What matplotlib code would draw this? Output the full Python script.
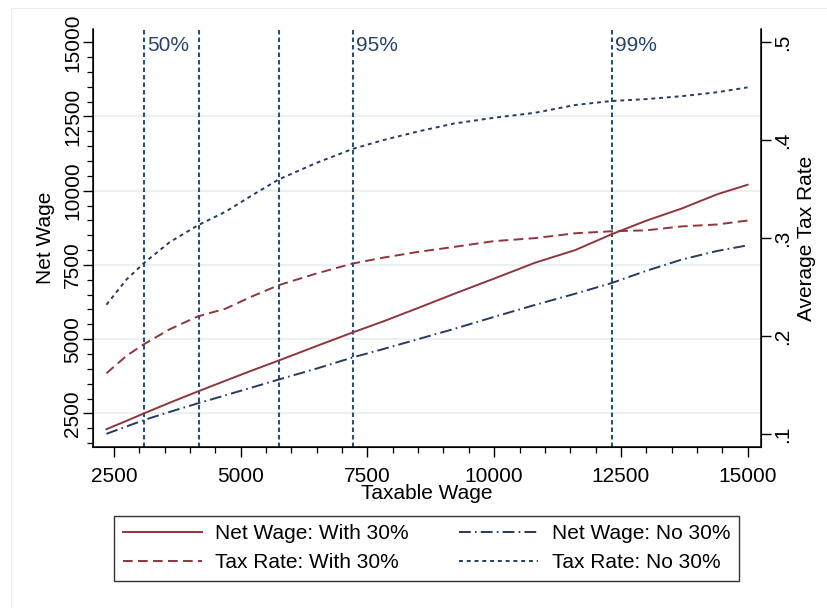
import matplotlib

matplotlib.use('Agg')

import matplotlib.pyplot as plt
import matplotlib.ticker as ticker
from matplotlib.patches import Rectangle


# taxable wage grid shared by all four series
taxable_wage = [2350, 2750, 3100, 3600, 4150, 4700, 5200, 5750, 6500, 7200, 7800,
                8500, 9200, 10000, 10800, 11600, 12300, 13000, 13700, 14400, 15000]

net_wage_with = [1965, 2250, 2505, 2860, 3235, 3600, 3930, 4280, 4770, 5220, 5590,
                 6050, 6520, 7040, 7570, 8000, 8520, 8990, 9400, 9880, 10200]
net_wage_no = [1810, 2060, 2280, 2550, 2835, 3110, 3360, 3640, 4010, 4380, 4660,
               5000, 5340, 5750, 6150, 6530, 6880, 7300, 7680, 7970, 8160]
tax_rate_with = [0.162, 0.180, 0.192, 0.207, 0.220, 0.228, 0.240, 0.252, 0.264, 0.274, 0.280,
                 0.286, 0.291, 0.297, 0.300, 0.305, 0.307, 0.308, 0.312, 0.314, 0.318]
tax_rate_no = [0.232, 0.258, 0.275, 0.296, 0.313, 0.327, 0.343, 0.360, 0.377, 0.391, 0.400,
               0.409, 0.417, 0.423, 0.428, 0.436, 0.440, 0.442, 0.445, 0.449, 0.454]

percentile_wage = [3092, 4171, 5756, 7210, 12328]
percentile_text = ['50%', '', '', '95%', '99%']

x_ticks = [2500, 5000, 7500, 10000, 12500, 15000]
net_ticks = [2500, 5000, 7500, 10000, 12500, 15000]
grid_vals = [2500, 5000, 7500, 10000, 12500]
rate_ticks = [0.1, 0.2, 0.3, 0.4, 0.5]
rate_labels = ['.1', '.2', '.3', '.4', '.5']

MAROON = '#90353b'
NAVY = '#273b5f'
VLINE = '#24517a'
FS = 15

plt.rcParams['font.family'] = ['Liberation Sans', 'DejaVu Sans']
plt.rcParams['lines.scale_dashes'] = False

fig = plt.figure(figsize=(8.28, 6.08), dpi=100)
ax = fig.add_axes([0.112, 0.2643, 0.807, 0.6875])
ax2 = ax.twinx()

# faint outer graph region outline
fig.patches.append(Rectangle((10.7 / 828, -0.05), 1.2, 1.05 - 8 / 608, transform=fig.transFigure,
                             fill=False, edgecolor='#eeeeee', lw=0.8))

for g in grid_vals:
    ax.axhline(g, color='#e8f0f2', lw=1.3, zorder=0)

for xv, lab in zip(percentile_wage, percentile_text):
    ax.axvline(xv, color=VLINE, lw=1.5, dashes=(3.2, 2.2), zorder=1)
    if lab:
        ax.annotate(lab, xy=(xv, 0.962), xycoords=ax.get_xaxis_transform(),
                    xytext=(2, 0), textcoords='offset points',
                    ha='left', va='center', fontsize=FS, color='#2a4366')

l1, = ax.plot(taxable_wage, net_wage_with, color=MAROON, lw=1.4, zorder=3)
l3, = ax.plot(taxable_wage, net_wage_no, color=NAVY, lw=1.4, dashes=(8.5, 3, 1.2, 3), zorder=3)
l2, = ax2.plot(taxable_wage, tax_rate_with, color=MAROON, lw=1.4, dashes=(7, 3.8), zorder=3)
l4, = ax2.plot(taxable_wage, tax_rate_no, color=NAVY, lw=1.4, dashes=(2.8, 2.8), zorder=3)

ax.set_xlim(2080, 15263)
ax.set_ylim(1356, 15437)
ax2.set_ylim(0.0864, 0.5133)

ax.set_xticks(x_ticks)
ax.set_yticks(net_ticks)
ax.xaxis.set_minor_locator(ticker.MultipleLocator(500))
ax.yaxis.set_minor_locator(ticker.MultipleLocator(500))
ax2.set_yticks(rate_ticks)
ax2.set_yticklabels(rate_labels)
ax2.yaxis.set_minor_locator(ticker.NullLocator())

ax.tick_params(axis='both', which='major', length=7.5, width=1, labelsize=FS, direction='out')
ax.tick_params(axis='both', which='minor', length=4.5, width=0.9, direction='out')
ax.tick_params(axis='x', pad=7)
ax.tick_params(axis='y', labelrotation=90, pad=0)
ax2.tick_params(axis='y', length=7.5, width=1, labelsize=FS, labelrotation=90, pad=1.5)
for lab in ax.get_yticklabels():
    lab.set_va('center')
for lab in ax2.get_yticklabels():
    lab.set_va('center')

ax.spines['top'].set_visible(False)
ax2.spines['top'].set_visible(False)
for sp in ('left', 'bottom'):
    ax.spines[sp].set_linewidth(1.1)
ax2.spines['right'].set_linewidth(1.1)

ax.set_xlabel('Taxable Wage', fontsize=FS, va='center')
ax.xaxis.set_label_coords(0.5, -0.111)
ax.set_ylabel('Net Wage', fontsize=FS, va='center')
ax.yaxis.set_label_coords(-0.0700, 0.5)
ax2.set_ylabel('Average Tax Rate', fontsize=FS, va='center', rotation=90)
ax2.yaxis.set_label_coords(1.0688, 0.5)

handles = [l1, l2, l3, l4]
labels = ['Net Wage: With 30%', 'Tax Rate: With 30%', 'Net Wage: No 30%', 'Tax Rate: No 30%']
leg = fig.legend(handles, labels, ncol=2, loc='upper center', bbox_to_anchor=(0.5151, 0.1518),
                 fontsize=FS, frameon=True, fancybox=False, framealpha=1, edgecolor='#333333',
                 borderaxespad=0, handlelength=3.8, handletextpad=0.66, columnspacing=2.4,
                 labelspacing=0.46, borderpad=0.42)
leg.get_frame().set_linewidth(1.0)

fig.savefig('out.png', dpi=100)
